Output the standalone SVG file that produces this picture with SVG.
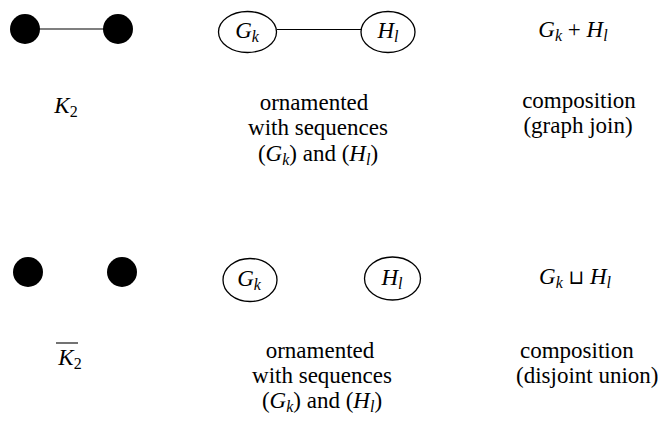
<svg xmlns="http://www.w3.org/2000/svg" width="658" height="423" viewBox="0 0 658 423">
<rect width="658" height="423" fill="#fff"/>
<g id="connectors" stroke="#000" stroke-width="1.2" fill="none">
<line x1="39" y1="29" x2="104" y2="29"/>
<line x1="277" y1="29.5" x2="361" y2="29.5"/>
</g>
<g fill="#000">
<g id="k2-a"><circle cx="25" cy="29" r="15"/></g>
<g id="k2-b"><circle cx="118" cy="29" r="15"/></g>
<g id="k2bar-a"><circle cx="28" cy="272" r="15"/></g>
<g id="k2bar-b"><circle cx="122" cy="272" r="15"/></g>
</g>
<g fill="none" stroke="#000" stroke-width="1.3">
<ellipse id="top-G-shape" cx="247.5" cy="32" rx="29" ry="20.5"/>
<ellipse id="top-H-shape" cx="388" cy="32" rx="27" ry="20.5"/>
<ellipse id="bot-G-shape" cx="250" cy="280" rx="27" ry="21.5"/>
<ellipse id="bot-H-shape" cx="392.5" cy="278.5" rx="28" ry="21.5"/>
</g>
<g fill="#000">
<g id="k2-label"><text font-family="Liberation Serif" font-size="23" x="66" y="113" text-anchor="middle"><tspan font-style="italic">K</tspan><tspan font-size="16" dy="4">2</tspan></text></g>
<g id="top-G"><text font-family="Liberation Serif" font-size="23" x="247" y="38" text-anchor="middle"><tspan font-style="italic">G</tspan><tspan font-style="italic" font-size="16" dy="4">k</tspan></text></g>
<g id="top-H"><text font-family="Liberation Serif" font-size="23" x="388" y="38" text-anchor="middle"><tspan font-style="italic">H</tspan><tspan font-style="italic" font-size="16" dy="4">l</tspan></text></g>
<g id="top-desc">
<text font-family="Liberation Serif" font-size="23" x="314" y="110" text-anchor="middle">ornamented</text>
<text font-family="Liberation Serif" font-size="23" x="318" y="135" text-anchor="middle">with sequences</text>
<text font-family="Liberation Serif" font-size="23" x="318" y="161" text-anchor="middle">(<tspan font-style="italic">G</tspan><tspan font-style="italic" font-size="16" dy="4">k</tspan><tspan dy="-4">) and (</tspan><tspan font-style="italic">H</tspan><tspan font-style="italic" font-size="16" dy="4">l</tspan><tspan dy="-4">)</tspan></text>
</g>
<g id="top-comp">
<text font-family="Liberation Serif" font-size="23" x="573" y="37" text-anchor="middle"><tspan font-style="italic">G</tspan><tspan font-style="italic" font-size="16" dy="4">k</tspan><tspan dy="-4"> + </tspan><tspan font-style="italic">H</tspan><tspan font-style="italic" font-size="16" dy="4">l</tspan></text>
<text font-family="Liberation Serif" font-size="23" x="579" y="108" text-anchor="middle">composition</text>
<text font-family="Liberation Serif" font-size="23" x="578" y="133" text-anchor="middle">(graph join)</text>
</g>
<g id="k2bar-label"><line x1="56" y1="343" x2="78" y2="343" stroke="#000" stroke-width="1.1"/><text font-family="Liberation Serif" font-size="23" x="70" y="365" text-anchor="middle"><tspan font-style="italic">K</tspan><tspan font-size="16" dy="4">2</tspan></text></g>
<g id="bot-G"><text font-family="Liberation Serif" font-size="23" x="249" y="286" text-anchor="middle"><tspan font-style="italic">G</tspan><tspan font-style="italic" font-size="16" dy="4">k</tspan></text></g>
<g id="bot-H"><text font-family="Liberation Serif" font-size="23" x="392" y="285" text-anchor="middle"><tspan font-style="italic">H</tspan><tspan font-style="italic" font-size="16" dy="4">l</tspan></text></g>
<g id="bot-desc">
<text font-family="Liberation Serif" font-size="23" x="320" y="358" text-anchor="middle">ornamented</text>
<text font-family="Liberation Serif" font-size="23" x="322" y="383" text-anchor="middle">with sequences</text>
<text font-family="Liberation Serif" font-size="23" x="322" y="408" text-anchor="middle">(<tspan font-style="italic">G</tspan><tspan font-style="italic" font-size="16" dy="4">k</tspan><tspan dy="-4">) and (</tspan><tspan font-style="italic">H</tspan><tspan font-style="italic" font-size="16" dy="4">l</tspan><tspan dy="-4">)</tspan></text>
</g>
<g id="bot-comp">
<text font-family="Liberation Serif" font-size="23" x="575" y="284" text-anchor="middle"><tspan font-style="italic">G</tspan><tspan font-style="italic" font-size="16" dy="4">k</tspan><tspan dy="-4"> </tspan><tspan font-family="DejaVu Sans" font-size="20">⊔</tspan><tspan> </tspan><tspan font-style="italic">H</tspan><tspan font-style="italic" font-size="16" dy="4">l</tspan></text>
<text font-family="Liberation Serif" font-size="23" x="520" y="358">composition</text>
<text font-family="Liberation Serif" font-size="23" x="516" y="383">(disjoint union)</text>
</g>
</g>
</svg>
